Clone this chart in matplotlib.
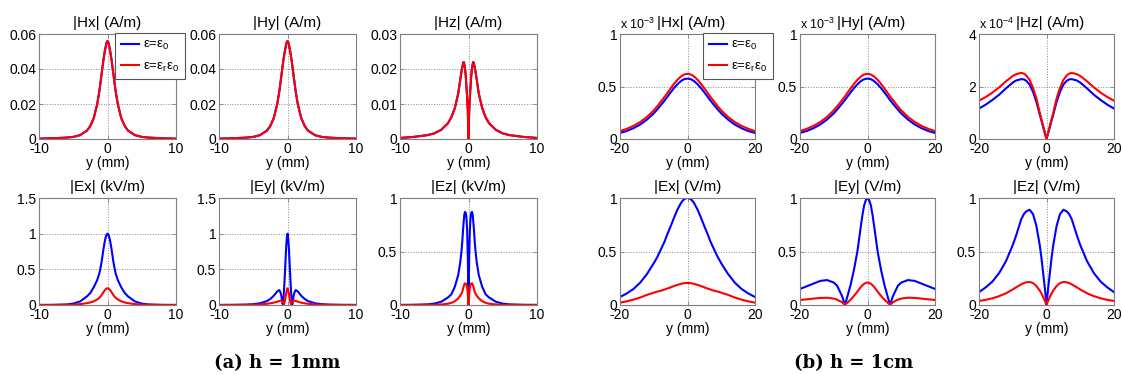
import matplotlib.pyplot as plt
from matplotlib.ticker import FormatStrFormatter
from matplotlib.lines import Line2D

plt.rcParams['font.family'] = ['Liberation Sans', 'DejaVu Sans']
plt.rcParams['mathtext.fontset'] = 'custom'
plt.rcParams['mathtext.rm'] = 'Liberation Sans'
plt.rcParams['mathtext.it'] = 'Liberation Sans:italic'
plt.rcParams['axes.unicode_minus'] = False

# ---- (a) h = 1mm, y in mm ----
y_1mm = [-10, -8, -6, -5, -4, -3, -2.5, -2, -1.5, -1.2, -1, -0.9, -0.8, -0.7, -0.6, -0.5, -0.4, -0.3, -0.2, -0.1,
         0, 0.1, 0.2, 0.3, 0.4, 0.5, 0.6, 0.7, 0.8, 0.9, 1, 1.2, 1.5, 2, 2.5, 3, 4, 5, 6, 8, 10]

# |Hx| and |Hy| (A/m), both permittivities give the same curve
hxy_1mm = [0.0002, 0.0004, 0.0008, 0.0012, 0.0022, 0.0048, 0.0075, 0.012, 0.020, 0.027, 0.033, 0.036, 0.039, 0.042,
           0.045, 0.0475, 0.050, 0.052, 0.054, 0.0555, 0.056, 0.0555, 0.054, 0.052, 0.050, 0.0475, 0.045, 0.042,
           0.039, 0.036, 0.033, 0.027, 0.020, 0.012, 0.0075, 0.0048, 0.0022, 0.0012, 0.0008, 0.0004, 0.0002]
hz_1mm = [0.0003, 0.0006, 0.0011, 0.0016, 0.0026, 0.0045, 0.0062, 0.0088, 0.013, 0.017, 0.0195, 0.0205, 0.0215,
          0.022, 0.0213, 0.020, 0.018, 0.015, 0.012, 0.008, 0, 0.008, 0.012, 0.015, 0.018, 0.020, 0.0213, 0.022,
          0.0215, 0.0205, 0.0195, 0.017, 0.013, 0.0088, 0.0062, 0.0045, 0.0026, 0.0016, 0.0011, 0.0006, 0.0003]
# |E| (kV/m)
ex_1mm_e0 = [0.001, 0.002, 0.008, 0.02, 0.05, 0.12, 0.17, 0.25, 0.35, 0.44, 0.53, 0.585, 0.645, 0.71, 0.775, 0.835,
             0.89, 0.935, 0.97, 0.99, 1.0, 0.99, 0.97, 0.935, 0.89, 0.835, 0.775, 0.71, 0.645, 0.585, 0.53, 0.44,
             0.35, 0.25, 0.17, 0.12, 0.05, 0.02, 0.008, 0.002, 0.001]
ex_1mm_er = [0.0002, 0.0005, 0.002, 0.005, 0.012, 0.026, 0.036, 0.052, 0.078, 0.10, 0.121, 0.134, 0.148, 0.163,
             0.178, 0.193, 0.206, 0.218, 0.227, 0.233, 0.235, 0.233, 0.227, 0.218, 0.206, 0.193, 0.178, 0.163,
             0.148, 0.134, 0.121, 0.10, 0.078, 0.052, 0.036, 0.026, 0.012, 0.005, 0.002, 0.0005, 0.0002]
ey_1mm_e0 = [0.001, 0.002, 0.006, 0.012, 0.025, 0.055, 0.085, 0.13, 0.19, 0.21, 0.17, 0.13, 0.07, 0.01, 0.08, 0.22,
             0.40, 0.60, 0.80, 0.94, 1.0, 0.94, 0.80, 0.60, 0.40, 0.22, 0.08, 0.01, 0.07, 0.13, 0.17, 0.21, 0.19,
             0.13, 0.085, 0.055, 0.025, 0.012, 0.006, 0.002, 0.001]
ey_1mm_er = [0.0003, 0.0008, 0.002, 0.004, 0.008, 0.017, 0.024, 0.033, 0.046, 0.056, 0.062, 0.063, 0.06, 0.05,
             0.03, 0.01, 0.045, 0.10, 0.16, 0.21, 0.235, 0.21, 0.16, 0.10, 0.045, 0.01, 0.03, 0.05, 0.06, 0.063,
             0.062, 0.056, 0.046, 0.033, 0.024, 0.017, 0.008, 0.004, 0.002, 0.0008, 0.0003]
ez_1mm_e0 = [0.001, 0.002, 0.006, 0.013, 0.03, 0.07, 0.10, 0.17, 0.28, 0.40, 0.52, 0.60, 0.70, 0.78, 0.85, 0.87,
             0.86, 0.82, 0.70, 0.45, 0, 0.45, 0.70, 0.82, 0.86, 0.87, 0.85, 0.78, 0.70, 0.60, 0.52, 0.40, 0.28,
             0.17, 0.10, 0.07, 0.03, 0.013, 0.006, 0.002, 0.001]
ez_1mm_er = [0.0001, 0.0003, 0.001, 0.002, 0.005, 0.012, 0.02, 0.035, 0.062, 0.088, 0.11, 0.125, 0.15, 0.175,
             0.195, 0.203, 0.20, 0.19, 0.16, 0.10, 0, 0.10, 0.16, 0.19, 0.20, 0.203, 0.195, 0.175, 0.15, 0.125,
             0.11, 0.088, 0.062, 0.035, 0.02, 0.012, 0.005, 0.002, 0.001, 0.0003, 0.0001]

# ---- (b) h = 1cm, y in mm ----
y_1cm = [-20, -18, -16, -14, -12, -10, -9, -7.5, -6.7, -6, -5, -4, -3, -2, -1.5, -1, -0.5,
         0, 0.5, 1, 1.5, 2, 3, 4, 5, 6, 6.7, 7.5, 9, 10, 12, 14, 16, 18, 20]

# |Hx|, |Hy| in units of 1e-3 A/m, |Hz| in units of 1e-4 A/m
hxy_1cm_e0 = [0.058, 0.076, 0.103, 0.138, 0.185, 0.244, 0.28, 0.338, 0.37, 0.401, 0.444, 0.485, 0.521, 0.55,
              0.561, 0.569, 0.573, 0.575, 0.573, 0.569, 0.561, 0.55, 0.521, 0.485, 0.444, 0.401, 0.37, 0.338,
              0.28, 0.244, 0.185, 0.138, 0.103, 0.076, 0.058]
hxy_1cm_er = [0.075, 0.097, 0.125, 0.162, 0.21, 0.273, 0.31, 0.372, 0.405, 0.437, 0.482, 0.525, 0.563, 0.594,
              0.605, 0.614, 0.618, 0.62, 0.618, 0.614, 0.605, 0.594, 0.563, 0.525, 0.482, 0.437, 0.405, 0.372,
              0.31, 0.273, 0.21, 0.162, 0.125, 0.097, 0.075]
hz_1cm_e0 = [1.16, 1.31, 1.49, 1.69, 1.93, 2.15, 2.23, 2.28, 2.27, 2.22, 2.07, 1.8, 1.42, 0.93, 0.7, 0.46, 0.23,
             0, 0.23, 0.46, 0.7, 0.93, 1.42, 1.8, 2.07, 2.22, 2.27, 2.28, 2.23, 2.15, 1.93, 1.69, 1.49, 1.31, 1.16]
hz_1cm_er = [1.46, 1.6, 1.77, 1.97, 2.2, 2.4, 2.47, 2.52, 2.49, 2.42, 2.25, 1.95, 1.55, 1.0, 0.75, 0.5, 0.25,
             0, 0.25, 0.5, 0.75, 1.0, 1.55, 1.95, 2.25, 2.42, 2.49, 2.52, 2.47, 2.4, 2.2, 1.97, 1.77, 1.6, 1.46]
# |E| (V/m)
ex_1cm_e0 = [0.075, 0.108, 0.15, 0.21, 0.29, 0.39, 0.445, 0.545, 0.6, 0.66, 0.735, 0.815, 0.89, 0.95, 0.972,
             0.988, 0.997, 1.0, 0.997, 0.988, 0.972, 0.95, 0.89, 0.815, 0.735, 0.66, 0.6, 0.545, 0.445, 0.39,
             0.29, 0.21, 0.15, 0.108, 0.075]
ex_1cm_er = [0.022, 0.034, 0.05, 0.07, 0.095, 0.115, 0.125, 0.137, 0.146, 0.153, 0.165, 0.177, 0.188, 0.197,
             0.201, 0.204, 0.205, 0.206, 0.205, 0.204, 0.201, 0.197, 0.188, 0.177, 0.165, 0.153, 0.146, 0.137,
             0.125, 0.115, 0.095, 0.07, 0.05, 0.034, 0.022]
ey_1cm_e0 = [0.15, 0.175, 0.2, 0.225, 0.233, 0.21, 0.18, 0.08, 0.0, 0.075, 0.19, 0.33, 0.5, 0.73, 0.84, 0.93,
             0.98, 1.0, 0.98, 0.93, 0.84, 0.73, 0.5, 0.33, 0.19, 0.075, 0.0, 0.08, 0.18, 0.21, 0.233, 0.225, 0.2,
             0.175, 0.15]
ey_1cm_er = [0.047, 0.053, 0.06, 0.066, 0.068, 0.06, 0.05, 0.025, 0.002, 0.02, 0.05, 0.085, 0.125, 0.168, 0.185,
             0.198, 0.207, 0.21, 0.207, 0.198, 0.185, 0.168, 0.125, 0.085, 0.05, 0.02, 0.002, 0.025, 0.05, 0.06,
             0.068, 0.066, 0.06, 0.053, 0.047]
ez_1cm_e0 = [0.12, 0.165, 0.22, 0.30, 0.41, 0.56, 0.65, 0.8, 0.85, 0.875, 0.89, 0.85, 0.74, 0.56, 0.44, 0.3,
             0.16, 0, 0.16, 0.3, 0.44, 0.56, 0.74, 0.85, 0.89, 0.875, 0.85, 0.8, 0.65, 0.56, 0.41, 0.30, 0.22,
             0.165, 0.12]
ez_1cm_er = [0.038, 0.048, 0.063, 0.083, 0.11, 0.145, 0.165, 0.193, 0.205, 0.212, 0.215, 0.205, 0.178, 0.135,
             0.108, 0.075, 0.04, 0, 0.04, 0.075, 0.108, 0.135, 0.178, 0.205, 0.215, 0.212, 0.205, 0.193, 0.165,
             0.145, 0.11, 0.083, 0.063, 0.048, 0.038]

W, H = 1122, 375
fig = plt.figure(figsize=(W / 100, H / 100), dpi=100)

BLUE = '#0000ff'
RED = '#ff0000'
FS = 10


def panel(px, py, pw, ph, y, blue, red, title, xlim, ylim, yticks, scale=None):
    # px, py (top), pw, ph in pixels
    ax = fig.add_axes([px / W, 1 - (py + ph) / H, pw / W, ph / H])
    ax.plot(y, blue, color=BLUE, lw=1.5)
    ax.plot(y, red, color=RED, lw=1.5)
    ax.set_xlim(xlim)
    ax.set_ylim(ylim)
    ax.set_xticks([xlim[0], 0, xlim[1]])
    ax.set_yticks(yticks)
    ax.yaxis.set_major_formatter(FormatStrFormatter('%g'))
    ax.grid(True, linestyle=':', color='#888888', linewidth=0.7)
    for s in ax.spines.values():
        s.set_color('#7f7f7f')
        s.set_linewidth(0.8)
    ax.tick_params(direction='in', length=3, width=0.6, color='#7f7f7f', labelsize=FS,
                   top=True, right=True, pad=2)
    ax.set_xlabel('y (mm)', fontsize=FS, labelpad=0)
    if scale:
        ax.text(0, 1.02, 'x 10$^{%s}$' % scale, transform=ax.transAxes, ha='left', va='bottom', fontsize=9)
        ax.set_title(title, fontsize=11, pad=5, x=0.53)
    else:
        ax.set_title(title, fontsize=11, pad=5)
    return ax


def add_legend(ax, x, y):
    handles = [Line2D([], [], color=BLUE, lw=1.5), Line2D([], [], color=RED, lw=1.5)]
    labels = ['ε=ε$_0$', 'ε=ε$_\\mathrm{r}$ε$_0$']
    leg = ax.legend(handles, labels, loc='upper left', bbox_to_anchor=(x / W, 1 - y / H),
                    bbox_transform=fig.transFigure, fontsize=9.5, handlelength=1.4, handletextpad=0.3,
                    labelspacing=0.6, borderpad=0.45, borderaxespad=0, fancybox=False, framealpha=1)
    leg.get_frame().set_edgecolor('#555555')
    leg.get_frame().set_linewidth(0.8)


# (a) h = 1mm
xa = [39, 219, 400]
ax = panel(xa[0], 34, 137, 105, y_1mm, hxy_1mm, hxy_1mm, '|Hx| (A/m)', (-10, 10), (0, 0.06), [0, 0.02, 0.04, 0.06])
add_legend(ax, 115, 33)
panel(xa[1], 34, 137, 105, y_1mm, hxy_1mm, hxy_1mm, '|Hy| (A/m)', (-10, 10), (0, 0.06), [0, 0.02, 0.04, 0.06])
panel(xa[2], 34, 137, 105, y_1mm, hz_1mm, hz_1mm, '|Hz| (A/m)', (-10, 10), (0, 0.03), [0, 0.01, 0.02, 0.03])
panel(xa[0], 198, 137, 107, y_1mm, ex_1mm_e0, ex_1mm_er, '|Ex| (kV/m)', (-10, 10), (0, 1.5), [0, 0.5, 1, 1.5])
panel(xa[1], 198, 137, 107, y_1mm, ey_1mm_e0, ey_1mm_er, '|Ey| (kV/m)', (-10, 10), (0, 1.5), [0, 0.5, 1, 1.5])
panel(xa[2], 198, 137, 107, y_1mm, ez_1mm_e0, ez_1mm_er, '|Ez| (kV/m)', (-10, 10), (0, 1), [0, 0.5, 1])

# (b) h = 1cm
xb = [620, 800, 979]
ax = panel(xb[0], 34, 135, 105, y_1cm, hxy_1cm_e0, hxy_1cm_er, '|Hx| (A/m)', (-20, 20), (0, 1), [0, 0.5, 1], '-3')
add_legend(ax, 703, 33)
panel(xb[1], 34, 135, 105, y_1cm, hxy_1cm_e0, hxy_1cm_er, '|Hy| (A/m)', (-20, 20), (0, 1), [0, 0.5, 1], '-3')
panel(xb[2], 34, 135, 105, y_1cm, hz_1cm_e0, hz_1cm_er, '|Hz| (A/m)', (-20, 20), (0, 4), [0, 2, 4], '-4')
panel(xb[0], 198, 135, 107, y_1cm, ex_1cm_e0, ex_1cm_er, '|Ex| (V/m)', (-20, 20), (0, 1), [0, 0.5, 1])
panel(xb[1], 198, 135, 107, y_1cm, ey_1cm_e0, ey_1cm_er, '|Ey| (V/m)', (-20, 20), (0, 1), [0, 0.5, 1])
panel(xb[2], 198, 135, 107, y_1cm, ez_1cm_e0, ez_1cm_er, '|Ez| (V/m)', (-20, 20), (0, 1), [0, 0.5, 1])

fig.text(277 / W, 1 - 363 / H, '(a) h = 1mm', ha='center', va='center', fontsize=13,
         fontweight='bold', family='DejaVu Serif')
fig.text(854 / W, 1 - 363 / H, '(b) h = 1cm', ha='center', va='center', fontsize=13,
         fontweight='bold', family='DejaVu Serif')

fig.savefig('out.png', dpi=100)
